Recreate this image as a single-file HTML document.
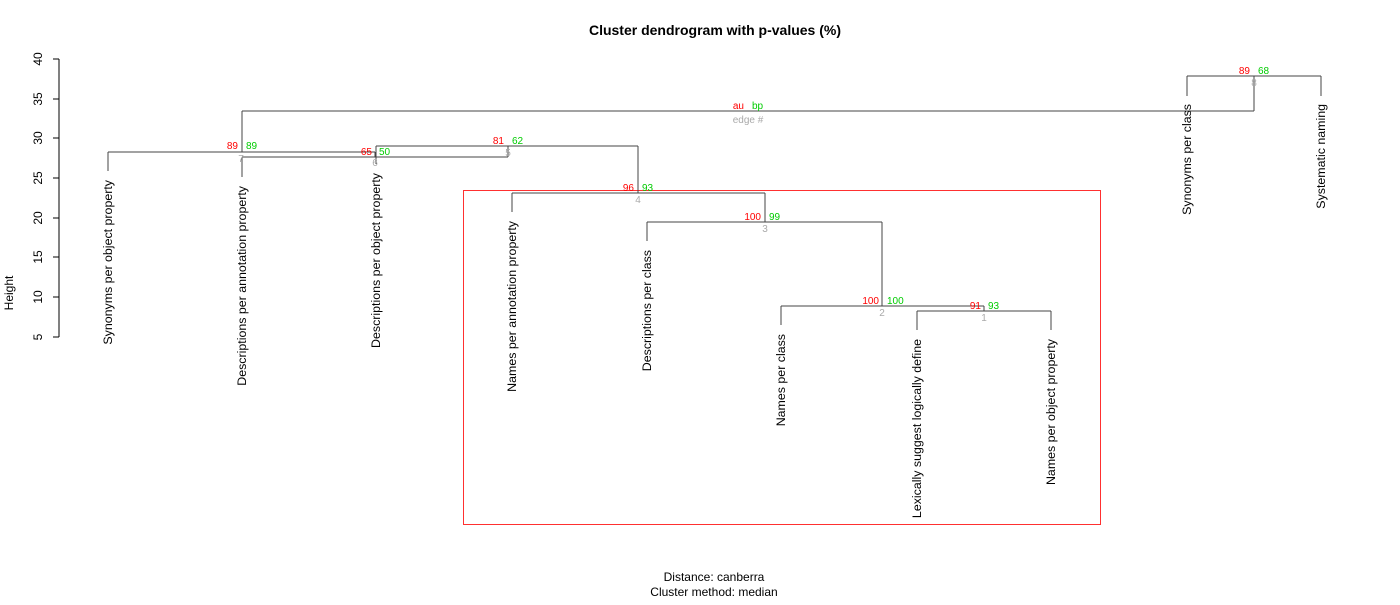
<!DOCTYPE html>
<html><head><style>body{margin:0;background:#fff}</style></head><body>
<svg width="1400" height="600" xmlns="http://www.w3.org/2000/svg" font-family="Liberation Sans, sans-serif">
<text x="715" y="35" font-size="14" font-weight="bold" text-anchor="middle">Cluster dendrogram with p-values (%)</text>
<g stroke="#000" stroke-width="1" fill="none">
<path d="M59 59V337M59 59H53M59 99H53M59 138H53M59 178H53M59 218H53M59 257H53M59 297H53M59 337H53"/>
</g>
<g font-size="12" text-anchor="middle">
<text transform="translate(42,59) rotate(-90)">40</text>
<text transform="translate(42,99) rotate(-90)">35</text>
<text transform="translate(42,138) rotate(-90)">30</text>
<text transform="translate(42,178) rotate(-90)">25</text>
<text transform="translate(42,218) rotate(-90)">20</text>
<text transform="translate(42,257) rotate(-90)">15</text>
<text transform="translate(42,297) rotate(-90)">10</text>
<text transform="translate(42,337) rotate(-90)">5</text>
<text transform="translate(13,293) rotate(-90)">Height</text>
<text x="714" y="581">Distance: canberra</text>
<text x="714" y="596">Cluster method: median</text>
</g>
<rect x="463.5" y="190.5" width="637" height="334" fill="none" stroke="#ff3030" stroke-width="1"/>
<g stroke="#444" stroke-width="1" fill="none">
<path d="M242 111H1254M242 111V152M1254 76V111M1187 76H1321M1187 76V96M1321 76V96"/>
<path d="M108 152H375M108 152V171M375 152V157M242 157H508M242 157V177M508 146V157"/>
<path d="M376 146H638M376 146V164M638 146V193M512 193H765M512 193V212M765 193V222"/>
<path d="M647 222H882M647 222V241M882 222V306M781 306H984M781 306V325M984 306V311"/>
<path d="M917 311H1051M917 311V330M1051 311V330"/>
</g>
<g font-size="12.4" text-anchor="end">
<text transform="translate(112,180) rotate(-90)">Synonyms per object property</text>
<text transform="translate(246,186) rotate(-90)">Descriptions per annotation property</text>
<text transform="translate(380,173) rotate(-90)">Descriptions per object property</text>
<text transform="translate(516,221) rotate(-90)">Names per annotation property</text>
<text transform="translate(651,250) rotate(-90)">Descriptions per class</text>
<text transform="translate(785,334) rotate(-90)">Names per class</text>
<text transform="translate(921,339) rotate(-90)">Lexically suggest logically define</text>
<text transform="translate(1055,339) rotate(-90)">Names per object property</text>
<text transform="translate(1191,104) rotate(-90)">Synonyms per class</text>
<text transform="translate(1325,104) rotate(-90)">Systematic naming</text>
</g>
<g font-size="10">
<g fill="#ff0000" text-anchor="end">
<text x="1250" y="74">89</text><text x="744" y="109">au</text><text x="238" y="149">89</text>
<text x="372" y="155">65</text><text x="504" y="144">81</text><text x="634" y="191">96</text>
<text x="761" y="220">100</text><text x="879" y="304">100</text><text x="981" y="309">91</text>
</g>
<g fill="#00cc00">
<text x="1258" y="74">68</text><text x="752" y="109">bp</text><text x="246" y="149">89</text>
<text x="379" y="155">50</text><text x="512" y="144">62</text><text x="642" y="191">93</text>
<text x="769" y="220">99</text><text x="887" y="304">100</text><text x="988" y="309">93</text>
</g>
<g fill="#aaa" text-anchor="middle">
<text x="1254" y="86">8</text><text x="748" y="123">edge #</text><text x="241" y="162">7</text>
<text x="375" y="166">6</text><text x="508" y="156">5</text><text x="638" y="203">4</text>
<text x="765" y="232">3</text><text x="882" y="316">2</text><text x="984" y="321">1</text>
</g>
</g>
</svg>
</body></html>
